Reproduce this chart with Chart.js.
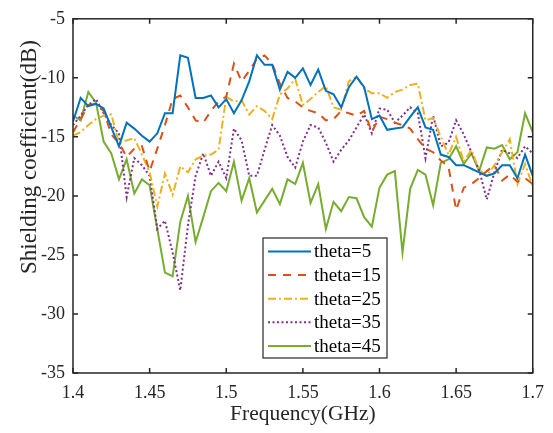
<!DOCTYPE html>
<html>
<head>
<meta charset="utf-8">
<script src="https://cdn.jsdelivr.net/npm/chart.js@4.4.1/dist/chart.umd.min.js"></script>
<style>
  html, body { margin: 0; padding: 0; background: #fff; }
  canvas { display: block; }
</style>
</head>
<body>
<canvas id="chart" width="553" height="433"></canvas>
<script>
const freq = [
    1.400, 1.405, 1.410, 1.415, 1.420, 1.425, 1.430, 1.435, 1.440, 1.445,
    1.450, 1.455, 1.460, 1.465, 1.470, 1.475, 1.480, 1.485, 1.490, 1.495,
    1.500, 1.505, 1.510, 1.515, 1.520, 1.525, 1.530, 1.535, 1.540, 1.545,
    1.550, 1.555, 1.560, 1.565, 1.570, 1.575, 1.580, 1.585, 1.590, 1.595,
    1.600, 1.605, 1.610, 1.615, 1.620, 1.625, 1.630, 1.635, 1.640, 1.645,
    1.650, 1.655, 1.660, 1.665, 1.670, 1.675, 1.680, 1.685, 1.690, 1.695,
    1.700,
];

const theta5 = [
    -13.7, -11.7, -12.4, -12.2, -12.6, -14.2, -15.8, -13.8, -14.3, -14.9,
    -15.4, -14.7, -13.0, -13.0, -8.1, -8.3, -11.7, -11.7, -11.5, -12.5,
    -11.8, -13.0, -11.9, -10.3, -8.1, -8.9, -8.9, -11.0, -9.5, -10.0,
    -9.2, -10.6, -9.3, -11.1, -11.4, -12.5, -10.8, -9.9, -10.8, -13.5,
    -13.2, -14.4, -14.3, -14.2, -13.3, -12.5, -14.2, -14.4, -16.5, -16.7,
    -17.4, -17.4, -17.7, -18.0, -18.3, -18.1, -17.4, -17.4, -18.5, -16.5,
    -18.3,
];
const theta15 = [
    -14.6, -13.5, -12.3, -12.2, -12.8, -14.8, -15.5, -16.7, -16.0, -15.8,
    -17.9, -16.0, -14.0, -11.8, -11.5, -12.5, -13.6, -13.8, -12.8, -12.0,
    -11.6, -8.8, -10.3, -9.4, -8.4, -8.1, -8.8, -10.5, -11.7, -12.0,
    -12.5, -12.8, -13.0, -13.6, -13.5, -12.8, -13.0, -13.2, -12.8, -14.6,
    -13.3, -13.5, -13.8, -14.0, -14.3, -15.2, -16.0, -16.3, -17.0, -17.5,
    -21.2, -19.3, -19.0, -18.5, -17.9, -17.4, -18.7, -18.2, -18.8, -18.5,
    -19.0,
];
const theta25 = [
    -14.9, -14.6, -14.0, -13.5, -13.2, -13.1, -15.5, -15.3, -15.1, -16.5,
    -18.0, -20.9, -18.1, -19.9, -17.5, -18.0, -16.9, -16.6, -16.5, -16.1,
    -11.6, -12.0, -11.9, -13.1, -12.4, -12.8, -13.5, -11.4, -10.9, -10.1,
    -12.3, -11.8, -11.2, -10.7, -12.5, -12.7, -10.3, -9.9, -10.9, -11.3,
    -11.3, -11.7, -11.2, -11.0, -10.6, -10.5, -13.6, -13.4, -15.0, -16.5,
    -15.0, -17.1, -16.1, -17.8, -18.3, -17.4, -16.3, -15.2, -19.0, -17.3,
    -19.2,
];
const theta35 = [
    -14.0, -13.2, -12.3, -11.8, -13.0, -14.0, -14.7, -20.1, -16.8, -17.4,
    -18.3, -22.8, -22.1, -24.8, -28.0, -22.5, -18.3, -16.4, -18.3, -17.1,
    -18.5, -14.3, -15.3, -18.3, -18.3, -16.1, -14.0, -14.9, -16.7, -17.6,
    -15.4, -14.0, -14.2, -15.5, -17.1, -16.1, -15.3, -14.2, -13.1, -14.7,
    -12.6, -12.7, -13.8, -13.2, -12.5, -13.0, -16.8, -13.2, -15.8, -15.5,
    -13.6, -14.8, -16.3, -17.8, -20.3, -18.0, -16.1, -16.4, -16.8, -15.8,
    -16.4,
];
const theta45 = [
    -13.2, -13.6, -11.2, -12.1, -15.4, -16.4, -18.6, -16.9, -19.8, -18.6,
    -19.1, -22.8, -26.5, -26.8, -22.2, -20.0, -23.9, -21.8, -19.6, -18.9,
    -19.6, -17.1, -20.4, -18.5, -21.4, -20.4, -19.4, -20.7, -18.6, -19.0,
    -17.2, -20.6, -19.0, -22.8, -20.5, -21.3, -20.1, -20.2, -21.8, -22.6,
    -19.3, -18.2, -17.9, -24.8, -19.4, -17.8, -18.2, -20.8, -17.2, -16.9,
    -15.8, -17.3, -16.4, -17.9, -15.9, -16.0, -15.7, -16.9, -16.3, -13.0,
    -14.6,
];

const seriesNames = ["theta=5", "theta=15", "theta=25", "theta=35", "theta=45"];
const seriesValues = [theta5, theta15, theta25, theta35, theta45];
const seriesColors = ["#0072BD", "#D95319", "#EDB120", "#7E2F8E", "#77AC30"];
const seriesDashes = [[], [8, 7], [8, 3, 2, 3], [2, 2.5], []];

const xTicks = [1.4, 1.45, 1.5, 1.55, 1.6, 1.65, 1.7];
const yTicks = [-35, -30, -25, -20, -15, -10, -5];

const FONT = "'Liberation Serif', 'Times New Roman', serif";
const INK = "#262626";

const datasets = seriesNames.map((name, k) => ({
    label: name,
    data: freq.map((f, i) => ({ x: f, y: seriesValues[k][i] })),
    borderColor: seriesColors[k],
    backgroundColor: seriesColors[k],
    borderDash: seriesDashes[k],
    borderWidth: 2,
    pointRadius: 0,
    tension: 0,
    fill: false,
}));

// box, inward ticks, y title and the legend, matlab style
const matlabFrame = {
    id: "matlabFrame",
    afterDraw(chart) {
        const ctx = chart.ctx;
        const a = chart.chartArea;
        const xs = chart.scales.x;
        const ys = chart.scales.y;
        ctx.save();
        ctx.strokeStyle = INK;
        ctx.lineWidth = 1.5;
        ctx.setLineDash([]);
        ctx.strokeRect(a.left, a.top, a.right - a.left, a.bottom - a.top);
        ctx.beginPath();
        xTicks.forEach((t) => {
            const px = xs.getPixelForValue(t);
            ctx.moveTo(px, a.bottom);
            ctx.lineTo(px, a.bottom - 5);
            ctx.moveTo(px, a.top);
            ctx.lineTo(px, a.top + 5);
        });
        yTicks.forEach((t) => {
            const py = ys.getPixelForValue(t);
            ctx.moveTo(a.left, py);
            ctx.lineTo(a.left + 5, py);
            ctx.moveTo(a.right, py);
            ctx.lineTo(a.right - 5, py);
        });
        ctx.stroke();

        // y axis title
        ctx.fillStyle = INK;
        ctx.font = "23px " + FONT;
        ctx.textAlign = "center";
        ctx.textBaseline = "middle";
        ctx.translate(30, 157);
        ctx.rotate(-Math.PI / 2);
        ctx.fillText("Shielding coefficient(dB)", 0, 0);
        ctx.restore();

        // legend
        ctx.save();
        const box = { x: 263, y: 238, w: 124, h: 120 };
        ctx.fillStyle = "#fff";
        ctx.fillRect(box.x, box.y, box.w, box.h);
        ctx.strokeStyle = INK;
        ctx.lineWidth = 1.2;
        ctx.strokeRect(box.x, box.y, box.w, box.h);
        ctx.font = "19px " + FONT;
        ctx.textAlign = "left";
        ctx.textBaseline = "middle";
        chart.data.datasets.forEach((ds, k) => {
            const ry = box.y + 13.5 + k * 23.6;
            ctx.strokeStyle = ds.borderColor;
            ctx.lineWidth = 2;
            ctx.setLineDash(ds.borderDash);
            ctx.beginPath();
            ctx.moveTo(box.x + 5, ry);
            ctx.lineTo(box.x + 48, ry);
            ctx.stroke();
            ctx.fillStyle = "#000";
            ctx.fillText(ds.label, box.x + 51, ry + 1);
        });
        ctx.restore();
    },
};

new Chart(document.getElementById("chart"), {
    type: "line",
    data: { datasets: datasets },
    options: {
        responsive: false,
        animation: false,
        devicePixelRatio: 1,
        layout: { padding: { top: 13, right: 15, left: 0, bottom: 0 } },
        plugins: {
            legend: { display: false },
            tooltip: { enabled: false },
        },
        scales: {
            x: {
                type: "linear",
                min: 1.4,
                max: 1.7,
                afterFit: (scale) => { scale.height = 60; },
                afterBuildTicks: (scale) => {
                    scale.ticks = xTicks.map((v) => ({ value: v }));
                },
                grid: { display: false, drawTicks: false },
                border: { display: false },
                ticks: {
                    padding: 9,
                    color: INK,
                    font: { family: FONT, size: 18 },
                    maxRotation: 0,
                    callback: (v) => String(+v.toFixed(2)),
                },
                title: {
                    display: true,
                    text: "Frequency(GHz)",
                    color: INK,
                    font: { family: FONT, size: 21.5 },
                    padding: { top: 0, bottom: 6 },
                },
            },
            y: {
                min: -35,
                max: -5,
                afterFit: (scale) => { scale.width = 73; },
                afterBuildTicks: (scale) => {
                    scale.ticks = yTicks.map((v) => ({ value: v }));
                },
                grid: { display: false, drawTicks: false },
                border: { display: false },
                ticks: {
                    padding: 8,
                    color: INK,
                    font: { family: FONT, size: 18 },
                    callback: (v) => String(v),
                },
            },
        },
    },
    plugins: [matlabFrame],
});
</script>
</body>
</html>
